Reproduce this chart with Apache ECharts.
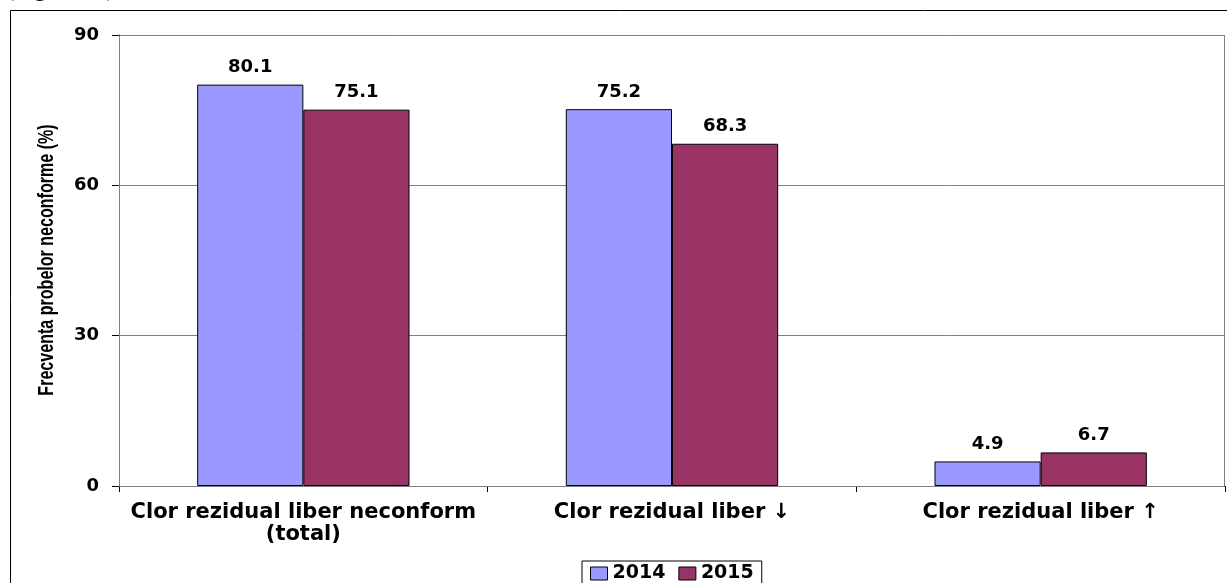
<!DOCTYPE html>
<html>
<head>
<meta charset="utf-8">
<script src="https://cdn.jsdelivr.net/npm/echarts@6/dist/echarts.min.js"></script>
<style>
  html, body { margin: 0; padding: 0; background: #fff; }
  #chart { width: 1227px; height: 583px; }
</style>
</head>
<body>
<div id="chart"></div>
<script>
// Categories and values (%)
const categories = ['Clor rezidual liber neconform\n(total)', 'Clor rezidual liber ↓', 'Clor rezidual liber ↑'];
const seriesNames = ['2014', '2015'];
const values2014 = [80.1, 75.2, 4.9];
const values2015 = [75.1, 68.3, 6.7];
const yTicks = [0, 30, 60, 90];
const yAxisTitle = 'Frecventa probelor neconforme (%)';

const FONT = '"DejaVu Sans", Verdana, sans-serif';

const chart = echarts.init(document.getElementById('chart'), null, { renderer: 'canvas' });

const labelStyle = {
  show: true,
  position: 'top',
  distance: 8,
  color: '#000',
  fontFamily: FONT,
  fontWeight: 'bold',
  fontSize: 18,
  formatter: p => p.value.toFixed(1)
};

chart.setOption({
  animation: false,
  backgroundColor: '#fff',
  graphic: [
    {
      type: 'rect',
      shape: { x: 10.5, y: 10.5, width: 1240, height: 600 },
      style: { fill: 'none', stroke: '#000', lineWidth: 1 },
      silent: true, z: 0
    },
    {
      type: 'rect',
      shape: { x: 119.5, y: 35.5, width: 1105, height: 451 },
      style: { fill: 'none', stroke: '#808080', lineWidth: 1 },
      silent: true, z: 1
    },
    {
      type: 'text',
      left: 6, top: -22,
      style: { text: '(Figura 10)', font: '24px "Liberation Serif", serif', fill: '#000' },
      silent: true
    },
    {
      // condensed, rotated value-axis title
      type: 'text',
      x: 47, y: 260,
      rotation: Math.PI / 2,
      scaleX: 0.73,
      style: {
        text: yAxisTitle,
        font: 'bold 22px "Liberation Sans", Arial, sans-serif',
        fill: '#000',
        align: 'center',
        verticalAlign: 'middle'
      },
      silent: true
    }
  ],
  grid: { left: 119, right: 2, top: 35, bottom: 97, containLabel: false },
  legend: {
    data: seriesNames,
    left: 582, top: 561,
    padding: [3, 8, 6, 8],
    borderColor: '#000', borderWidth: 1,
    itemWidth: 17, itemHeight: 13, itemGap: 13,
    icon: 'rect',
    itemStyle: { borderColor: '#000', borderWidth: 1 },
    textStyle: { color: '#000', fontFamily: FONT, fontWeight: 'bold', fontSize: 19 }
  },
  xAxis: {
    type: 'category',
    data: categories,
    axisLine: { lineStyle: { color: '#000', width: 1 } },
    axisTick: { show: true, length: 6, lineStyle: { color: '#000' } },
    axisLabel: {
      color: '#000', fontFamily: FONT, fontWeight: 'bold',
      fontSize: 21, lineHeight: 22, margin: 16, interval: 0
    },
    splitLine: { show: false }
  },
  yAxis: {
    type: 'value',
    min: 0, max: 90, interval: 30,
    axisLine: { show: true, lineStyle: { color: '#000', width: 1 } },
    axisTick: { show: true, length: 7, lineStyle: { color: '#000' } },
    axisLabel: {
      color: '#000', fontFamily: FONT, fontWeight: 'bold',
      fontSize: 18, margin: 20,
      formatter: v => (yTicks.includes(v) ? String(v) : '')
    },
    splitLine: { show: true, lineStyle: { color: '#808080', width: 1 } }
  },
  series: [
    {
      name: seriesNames[0], type: 'bar', data: values2014,
      barWidth: '28.8%', barGap: '0%',
      itemStyle: { color: '#9999FF', borderColor: '#000', borderWidth: 1 },
      label: labelStyle
    },
    {
      name: seriesNames[1], type: 'bar', data: values2015,
      barWidth: '28.8%', barGap: '0%',
      itemStyle: { color: '#993366', borderColor: '#000', borderWidth: 1 },
      label: labelStyle
    }
  ]
});
</script>
</body>
</html>
